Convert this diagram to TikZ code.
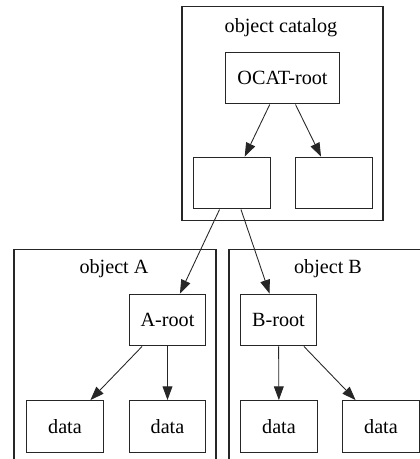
\documentclass[tikz,border=0pt]{standalone}
\usepackage{fontspec}
\setmainfont{Liberation Serif}
\usetikzlibrary{arrows.meta}
\begin{document}
\begin{tikzpicture}[x=0.694pt, y=-0.694pt,
  every node/.style={font=\fontsize{14}{16}\selectfont},
  box/.style={draw=black!85, line width=0.7pt, rectangle, inner sep=0pt,
              minimum width=53.4pt, minimum height=36pt,
              text height=9.7pt, text depth=0pt},
  widebox/.style={box, minimum width=79.8pt},
  cluster/.style={draw=black!85, line width=0.7pt},
  clabel/.style={inner sep=0pt, anchor=base},
  edge/.style={draw=black!85, line width=0.6pt,
               -{Triangle[length=9.5pt, width=6.8pt]}}
]
  \useasboundingbox (0,0) rectangle (420,459);
  \fill[white] (0,0) rectangle (420,459);
  \clip (0,0) rectangle (420,459);

  % clusters
  \draw[cluster] (182,6) rectangle (383,220);
  \node[clabel] (lcat) at (281,32) {object catalog};
  \draw[cluster] (14,249) rectangle (216,480);
  \node[clabel] (la) at (114,273) {object A};
  \draw[cluster] (229,249) rectangle (440,480);
  \node[clabel] (lb) at (328,273) {object B};

  % catalog nodes
  \node[widebox] (ocat) at (282.5,78) {OCAT-root};
  \node[box] (ent1) at (232,183) {};
  \node[box] (ent2) at (334,183) {};

  % object A
  \node[box] (aroot) at (167.5,320) {A-root};
  \node[box] (a1) at (65,426.5) {data};
  \node[box] (a2) at (167.5,426.5) {data};

  % object B
  \node[box] (broot) at (278.5,320) {B-root};
  \node[box] (b1) at (279,426.5) {data};
  \node[box] (b2) at (381,426.5) {data};

  % references
  \draw[edge] (ocat) -- (ent1);
  \draw[edge] (ocat) -- (ent2);
  \draw[edge] (ent1) -- (aroot);
  \draw[edge] (ent1) -- (broot);
  \draw[edge] (aroot) -- (a1);
  \draw[edge] (aroot) -- (a2);
  \draw[edge] (broot) -- (b1);
  \draw[edge] (broot) -- (b2);
\end{tikzpicture}
\end{document}
